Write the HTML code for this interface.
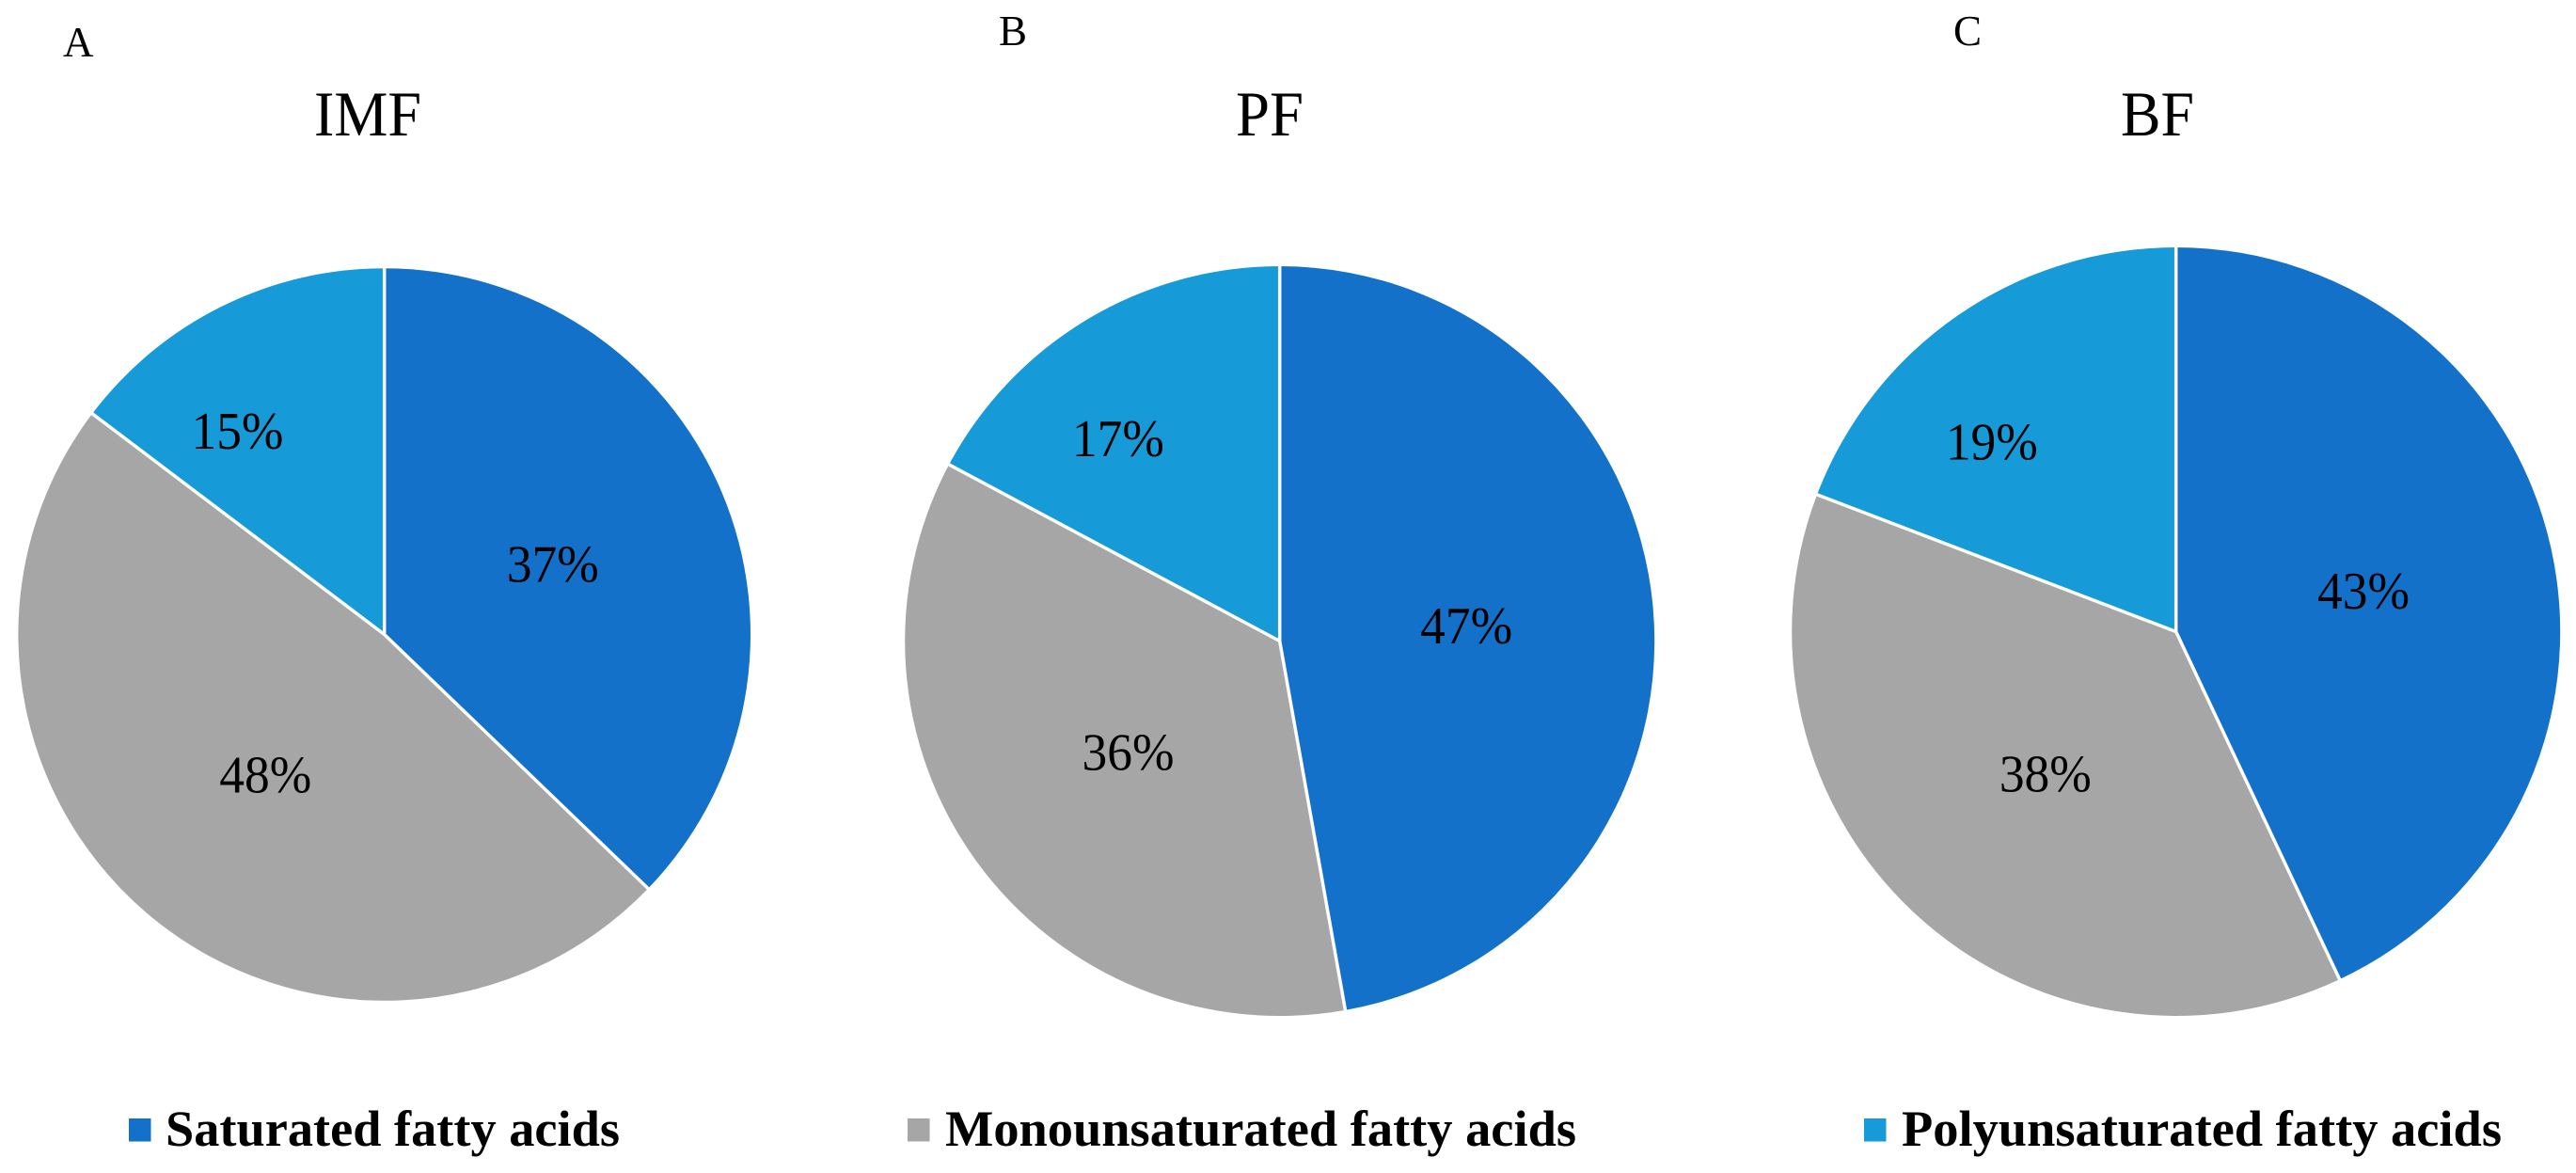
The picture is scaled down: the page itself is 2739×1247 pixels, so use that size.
<!DOCTYPE html>
<html lang="en">
<head>
<meta charset="utf-8">
<title>Fatty acid composition: IMF, PF, BF</title>
<style>
  html, body { margin: 0; padding: 0; background: #fff; }
  body { width: 2739px; height: 1247px; overflow: hidden; }
  svg { display: block; font-family: "Liberation Serif", "Times New Roman", serif; }
</style>
</head>
<body>
<svg id="chart" xmlns="http://www.w3.org/2000/svg" width="2739" height="1247" viewBox="0 0 2739 1247">
  <rect x="0" y="0" width="2739" height="1247" fill="#ffffff"/>

  <text x="67" y="60" font-size="45" fill="#000">A</text>
  <text x="1062" y="48" font-size="45" fill="#000">B</text>
  <text x="2077" y="48" font-size="45" fill="#000">C</text>

  <text x="391" y="144" font-size="68" text-anchor="middle" textLength="114" lengthAdjust="spacingAndGlyphs" fill="#000">IMF</text>
  <text x="1350" y="144" font-size="68" text-anchor="middle" textLength="72" lengthAdjust="spacingAndGlyphs" fill="#000">PF</text>
  <text x="2294" y="144" font-size="68" text-anchor="middle" textLength="78" lengthAdjust="spacingAndGlyphs" fill="#000">BF</text>

  <g id="pies"></g>

  <g>
    <g>
      <rect x="137" y="1189" width="23.5" height="24.5" fill="#1471c9"/>
      <text x="176" y="1218" font-size="54" font-weight="bold" textLength="483" lengthAdjust="spacingAndGlyphs" fill="#000">Saturated fatty acids</text>
    </g>
    <g>
      <rect x="965" y="1189" width="23.5" height="24.5" fill="#a6a6a6"/>
      <text x="1005" y="1218" font-size="54" font-weight="bold" textLength="671" lengthAdjust="spacingAndGlyphs" fill="#000">Monounsaturated fatty acids</text>
    </g>
    <g>
      <rect x="1982" y="1189" width="23.5" height="24.5" fill="#179bd8"/>
      <text x="2022" y="1218" font-size="54" font-weight="bold" textLength="638" lengthAdjust="spacingAndGlyphs" fill="#000">Polyunsaturated fatty acids</text>
    </g>
  </g>
</svg>

<script>
// Chart data
const categories = ["Saturated fatty acids", "Monounsaturated fatty acids", "Polyunsaturated fatty acids"];
const panelNames = ["IMF", "PF", "BF"];
const imfValues = [37.2, 48.1, 14.7];
const pfValues = [47.2, 35.6, 17.2];
const bfValues = [43.0, 37.8, 19.2];

// Styling and layout (not data)
const sliceColors = ["#1471c9", "#a6a6a6", "#179bd8"];
const sliceKeys = ["saturated", "monounsaturated", "polyunsaturated"];
const pieFrames = [
  { cx: 408.7, cy: 674.5, r: 389.3, nudge: [[0, 0], [0, 0], [-69.5, -43.3]] },
  { cx: 1360.7, cy: 681.5, r: 398.5, nudge: [[0, 0], [0, 0], [-69.3, -45.4]] },
  { cx: 2313.7, cy: 671.5, r: 408.5, nudge: [[0, 0], [0, 0], [-80, -34.9]] }
];

const SVG_NS = "http://www.w3.org/2000/svg";
const piesGroup = document.getElementById("pies");

// Axis functions: value -> angle, angle -> point
function valueToAngle(value, total) {
  return (value / total) * Math.PI * 2;
}
function polar(frame, angle, radius) {
  return {
    x: frame.cx + Math.sin(angle) * radius,
    y: frame.cy - Math.cos(angle) * radius
  };
}

function drawPie(name, values, frame) {
  const total = values.reduce(function (a, b) { return a + b; }, 0);
  const key = name.toLowerCase();

  const group = document.createElementNS(SVG_NS, "g");
  
  
  piesGroup.appendChild(group);

  let start = 0;
  const labelItems = [];
  const boundaries = [];
  values.forEach(function (value, i) {
    const sweep = valueToAngle(value, total);
    const end = start + sweep;
    const p0 = polar(frame, start, frame.r);
    const p1 = polar(frame, end, frame.r);
    const large = sweep > Math.PI ? 1 : 0;

    const slice = document.createElementNS(SVG_NS, "path");
    slice.setAttribute("d", "M" + frame.cx + " " + frame.cy + " L" + p0.x + " " + p0.y +
      " A" + frame.r + " " + frame.r + " 0 " + large + " 1 " + p1.x + " " + p1.y + " Z");
    slice.setAttribute("fill", sliceColors[i]);
    
    
    const tip = document.createElementNS(SVG_NS, "title");
    tip.textContent = categories[i] + ": " + value + "%";
    slice.appendChild(tip);
    group.appendChild(slice);

    boundaries.push(start);
    labelItems.push({ mid: start + sweep / 2, value: value, i: i });
    start = end;
  });

  boundaries.forEach(function (angle, i) {
    const edge = polar(frame, angle, frame.r + 1);
    const line = document.createElementNS(SVG_NS, "line");
    line.setAttribute("x1", frame.cx);
    line.setAttribute("y1", frame.cy);
    line.setAttribute("x2", edge.x);
    line.setAttribute("y2", edge.y);
    line.setAttribute("stroke", "#ffffff");
    line.setAttribute("stroke-width", "3.5");
    line.setAttribute("stroke-linecap", "round");
    
    
    group.appendChild(line);
  });

  labelItems.forEach(function (item) {
    const pos = polar(frame, item.mid, frame.r * 0.5);
    const nudge = frame.nudge[item.i];
    const label = document.createElementNS(SVG_NS, "text");
    label.setAttribute("x", pos.x + nudge[0]);
    label.setAttribute("y", pos.y + 20 + nudge[1]);
    label.setAttribute("font-size", "56");
    label.setAttribute("text-anchor", "middle");
    label.setAttribute("textLength", "98");
    label.setAttribute("lengthAdjust", "spacingAndGlyphs");
    label.setAttribute("fill", "#000");
    
    
    label.textContent = Math.round(item.value / total * 100) + "%";
    group.appendChild(label);
  });
}

drawPie(panelNames[0], imfValues, pieFrames[0]);
drawPie(panelNames[1], pfValues, pieFrames[1]);
drawPie(panelNames[2], bfValues, pieFrames[2]);
</script>
</body>
</html>
